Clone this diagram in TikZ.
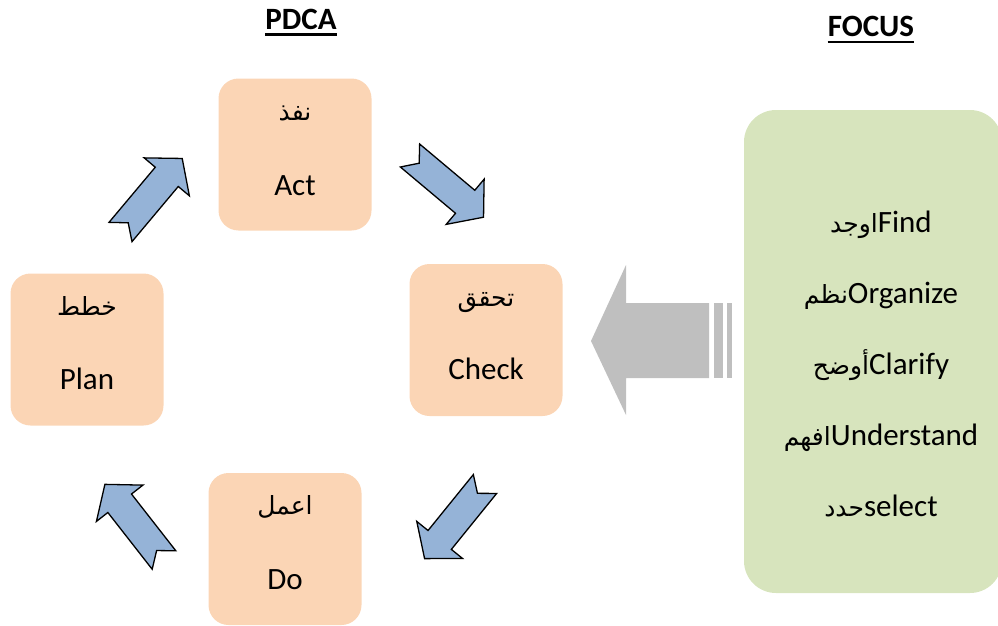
\documentclass[tikz,border=0pt]{standalone}
\usepackage{fontspec}
\setmainfont{Carlito}
\newfontfamily\arabicfont[Script=Arabic]{DejaVu Sans}
\TeXXeTstate=1
\usetikzlibrary{calc}
\definecolor{peach}{HTML}{FBD5B5}
\definecolor{olivebox}{HTML}{D7E4BD}
\definecolor{steel}{HTML}{95B3D7}
\definecolor{grayarrow}{HTML}{BFBFBF}
\newcommand{\blockarrowat}[2]{%
  \begin{scope}[shift={#1},rotate=#2]
    \draw[barrow] (0,-15) -- (72,-15) -- (72,-29.5) -- (96,0) -- (72,29.5) -- (72,15) -- (0,15) -- (12,0) -- cycle;
  \end{scope}}
\begin{document}
\begin{tikzpicture}[x=1pt,y=-1pt,
  pbox/.style={draw=none,fill=peach,rounded corners=20pt,minimum width=153pt,minimum height=152pt,inner sep=0pt},
  artext/.style={font=\fontsize{25}{30}\selectfont\arabicfont,anchor=base,inner sep=0pt},
  entext/.style={font=\fontsize{31}{36}\selectfont,anchor=base,inner sep=0pt},
  title/.style={font=\fontsize{31}{36}\selectfont\bfseries,anchor=base,inner sep=0pt},
  focusline/.style={font=\fontsize{31}{36}\selectfont,anchor=base,inner sep=0pt},
  barrow/.style={draw=black,line width=1.3pt,fill=steel,line join=miter},
  ularrow/.style={line width=2.6pt}
]
\useasboundingbox (0,0) rectangle (998,626);
\clip (0,0) rectangle (998,626);

% titles
\node[title] (pdca) at (301,30) {PDCA};
\draw[ularrow] ($(pdca.base west)+(0,4.5)$) -- ($(pdca.base east)+(0,4.5)$);
\node[title] (focus) at (871,37) {FOCUS};
\draw[ularrow] ($(focus.base west)+(0,5)$) -- ($(focus.base east)+(0,5)$);

% PDCA boxes
\node[pbox] (act) at (295,154.5) {};
\node[pbox] (plan) at (87,349.5) {};
\node[pbox] (check) at (486,340) {};
\node[pbox] (do) at (285,549) {};

\node[artext] (actar) at ($(act.north)+(0,42)$) {\beginR نفذ\endR};
\node[entext] (acten) at ($(act.north)+(0,117)$) {Act};
\node[artext] (planar) at ($(plan.north)+(0,42)$) {\beginR خطط\endR};
\node[entext] (planen) at ($(plan.north)+(0,116)$) {Plan};
\node[artext] (checkar) at ($(check.north)+(0,43)$) {\beginR تحقق\endR};
\node[entext] (checken) at ($(check.north)+(0,116)$) {Check};
\node[artext] (doar) at ($(do.north)+(0,42)$) {\beginR اعمل\endR};
\node[entext] (doen) at ($(do.north)+(0,117)$) {Do};

% notched block arrows
\blockarrowat{(120.5,232)}{50}
\blockarrowat{(410,155.5)}{-40}
\blockarrowat{(485,484)}{-129}
\blockarrowat{(164,560)}{128}

% big gray arrow
\fill[grayarrow] (591,341) -- (626,265) -- (626,303) -- (709,303) -- (709,378) -- (626,378) -- (626,415) -- cycle;
\fill[grayarrow] (714,303) rectangle (723,378);
\fill[grayarrow] (727,303) rectangle (732,378);

% FOCUS box
\node[draw=none,fill=olivebox,rounded corners=32pt,minimum width=258pt,minimum height=483pt,inner sep=0pt] (focusbox) at (873,351.5) {};
\node[focusline] (f1) at (881,232) {{\arabicfont\fontsize{25}{30}\selectfont\beginR اوجد\endR}Find};
\node[focusline] (f2) at (881,303) {{\arabicfont\fontsize{25}{30}\selectfont\beginR نظم\endR}Organize};
\node[focusline] (f3) at (881,374) {{\arabicfont\fontsize{25}{30}\selectfont\beginR أوضح\endR}Clarify};
\node[focusline] (f4) at (881,445) {{\arabicfont\fontsize{25}{30}\selectfont\beginR افهم\endR}Understand};
\node[focusline] (f5) at (881,516) {{\arabicfont\fontsize{25}{30}\selectfont\beginR حدد\endR}select};
\end{tikzpicture}
\end{document}
